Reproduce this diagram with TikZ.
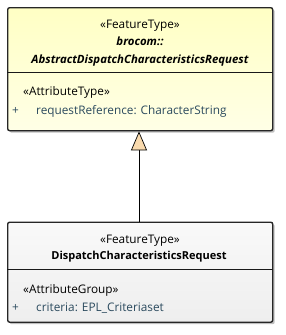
\documentclass[tikz,border=0pt]{standalone}
\usepackage{fontspec}
\setmainfont{Open Sans}
\usetikzlibrary{arrows.meta,shadows}
\definecolor{topfill}{HTML}{FFFFC4}
\definecolor{topfillb}{HTML}{FFFFE6}
\definecolor{botfill}{HTML}{F9F9F9}
\definecolor{botfillb}{HTML}{EEEEEE}
\definecolor{attrcol}{HTML}{2B4A5E}
\definecolor{tricol}{HTML}{F9DAAE}
\tikzset{
  umlbox/.style={draw=black!85, line width=1.4pt, rounded corners=2pt, inner sep=0pt,
    drop shadow={shadow xshift=2pt, shadow yshift=-2pt, fill=black!25, opacity=1}},
  sep/.style={draw=black!90, line width=1.4pt},
  txt/.style={font=\fontsize{11.8}{14}\selectfont, inner sep=0pt, anchor=base},
  btxt/.style={font=\fontsize{11}{14}\selectfont\bfseries, inner sep=0pt, anchor=base},
  bitxt/.style={font=\fontsize{11.4}{14}\selectfont\bfseries\itshape, inner sep=0pt, anchor=base},
  attr/.style={txt, text=attrcol, anchor=base west},
  gen/.style={draw=black, line width=0.9pt, -{Triangle[width=16pt,length=19pt,fill=tricol,line width=0.7pt]}},
}
\begin{document}
\begin{tikzpicture}[x=1pt,y=-1pt]
\useasboundingbox (0,0) rectangle (285,335);
% top box
\node[umlbox, top color=topfill, bottom color=topfillb, minimum width=265pt, minimum height=123pt, anchor=north west] (abs) at (7,7) {};
\draw[sep] (abs.west |- 0,72.5) -- (abs.east |- 0,72.5);
\node[txt] (abss) at (140,28) {«FeatureType»};
\node[bitxt] (absp) at (140,45.5) {brocom::};
\node[bitxt] (absn) at (140,63) {AbstractDispatchCharacteristicsRequest};
\node[txt, anchor=base west] (abst) at (23,95) {«AttributeType»};
\node[attr] (absplus) at (12,114) {+};
\node[attr] (absa) at (36,114) {requestReference: CharacterString};
% bottom box
\node[umlbox, top color=botfill, bottom color=botfillb, minimum width=265pt, minimum height=100pt, anchor=north west] (dcr) at (7,221.5) {};
\draw[sep] (dcr.west |- 0,269.5) -- (dcr.east |- 0,269.5);
\node[txt] (dcrs) at (140,243) {«FeatureType»};
\node[btxt] (dcrn) at (139,259.5) {DispatchCharacteristicsRequest};
\node[txt, anchor=base west] (dcrt) at (23,293) {«AttributeGroup»};
\node[attr] (dcrplus) at (12,311) {+};
\node[attr] (dcra) at (36,311) {criteria: EPL\_Criteriaset};
% generalization
\draw[gen] (dcr.north -| 139,0) -- (abs.south -| 139,0);
\end{tikzpicture}
\end{document}
